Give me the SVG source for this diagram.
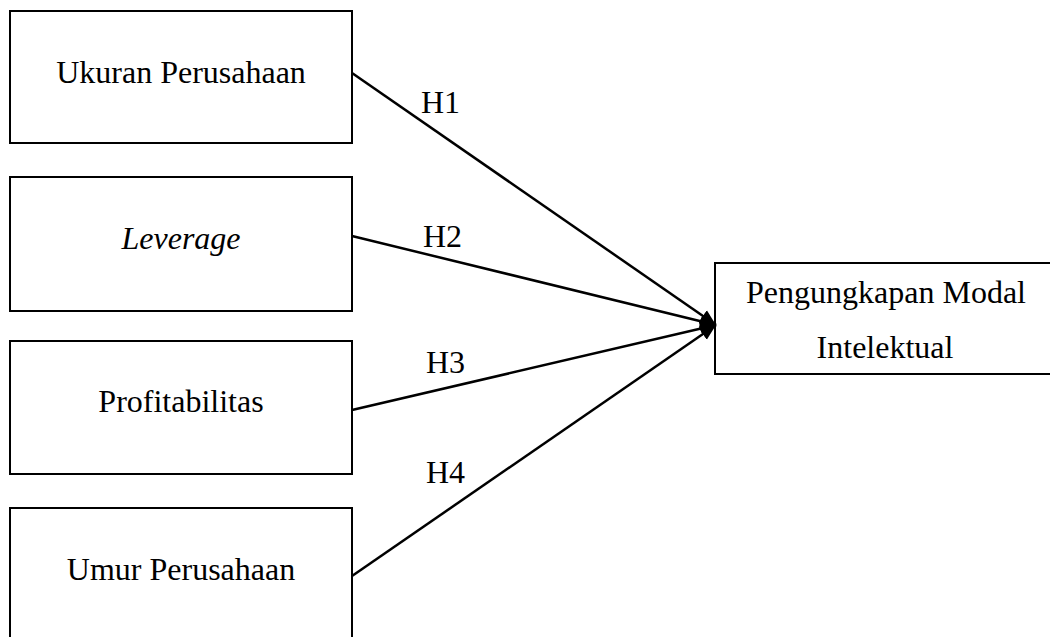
<svg xmlns="http://www.w3.org/2000/svg" width="1050" height="637" viewBox="0 0 1050 637">
<style>
.box{fill:#fff;stroke:#000;stroke-width:2}
.t{font-family:"Liberation Serif","Times New Roman",serif;font-size:32px;fill:#000;text-anchor:middle}
.lbl{font-family:"Liberation Serif","Times New Roman",serif;font-size:32px;fill:#000}
.c{stroke:#000;stroke-width:2.5;fill:none}
</style>
<defs>
<marker id="ah" viewBox="0 0 16 20" refX="16" refY="10" markerWidth="16" markerHeight="20" markerUnits="userSpaceOnUse" orient="auto">
<path d="M0,3 L16,10 L0,17 z" fill="#000"/>
</marker>
</defs>
<rect width="1050" height="637" fill="#fff"/>
<g id="n1"><rect class="box" x="10" y="11" width="342" height="132"/><text class="t" x="181" y="83">Ukuran Perusahaan</text></g>
<g id="n2"><rect class="box" x="10" y="177" width="342" height="134"/><text class="t" x="181" y="249" font-style="italic">Leverage</text></g>
<g id="n3"><rect class="box" x="10" y="341" width="342" height="133"/><text class="t" x="181" y="412">Profitabilitas</text></g>
<g id="n4"><rect class="box" x="10" y="508" width="342" height="140"/><text class="t" x="181" y="580">Umur Perusahaan</text></g>
<g id="n5"><rect class="box" x="715" y="263" width="345" height="111"/><text class="t" x="886" y="303">Pengungkapan Modal</text><text class="t" x="885" y="358">Intelektual</text></g>
<g id="connectors">
<line class="c" x1="352" y1="73" x2="716" y2="325" marker-end="url(#ah)"/>
<line class="c" x1="352" y1="236" x2="716" y2="325" marker-end="url(#ah)"/>
<line class="c" x1="352" y1="410" x2="716" y2="325" marker-end="url(#ah)"/>
<line class="c" x1="352" y1="576" x2="716" y2="325" marker-end="url(#ah)"/>
<text class="lbl" x="421" y="113">H1</text>
<text class="lbl" x="423" y="247">H2</text>
<text class="lbl" x="426" y="373">H3</text>
<text class="lbl" x="426" y="483">H4</text>
</g>
</svg>
